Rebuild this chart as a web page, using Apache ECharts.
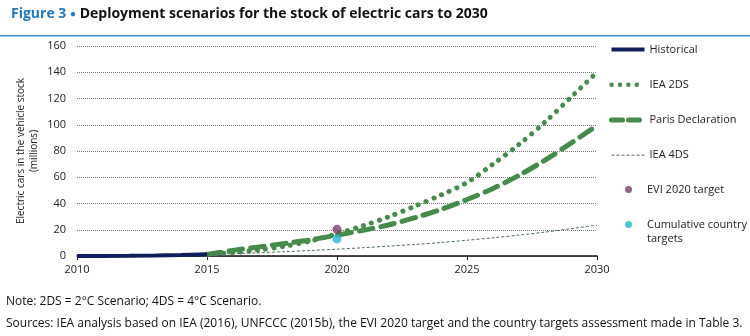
<!DOCTYPE html>
<html><head><meta charset="utf-8">
<script src="https://cdn.jsdelivr.net/npm/echarts@6/dist/echarts.min.js"></script>
<style>html,body{margin:0;padding:0;background:#fff}#c{width:750px;height:336px}</style>
</head><body><div id="c"></div>
<script>
var histYears = [2010, 2011, 2012, 2013, 2014, 2015];
var historical = [0.02, 0.07, 0.18, 0.38, 0.7, 1.26];
var scenYears = [2015, 2016, 2017, 2018, 2019, 2020, 2021, 2022, 2023, 2024, 2025, 2026, 2027, 2028, 2029, 2030];
var iea2ds = [1.26, 2.6, 4.6, 7.5, 11.5, 17, 23, 30, 38, 46.5, 56, 70, 85, 102, 121, 140];
var paris = [1.26, 4.3, 6.9, 9.6, 12.3, 16, 19.5, 23.8, 29.2, 35.5, 43, 51.5, 61.5, 73, 86, 99.5];
var iea4ds = [1.26, 1.8, 2.5, 3.3, 4.2, 5.2, 6.3, 7.5, 8.8, 10.3, 12, 13.9, 15.9, 18.2, 20.8, 23.5];
var targetYear = 2020;
var evi2020 = 20.3;
var countryTargets = 13;
var xTicks = [2010, 2015, 2020, 2025, 2030];

function pairs(xs, ys) { return xs.map(function (x, i) { return [x, ys[i]]; }); }

var FONT = 'Open Sans';
var green = '#468A4C';
var navy = '#0F1E5A';
var grey4 = '#4F6F55';
var chart = echarts.init(document.getElementById('c'), null, { renderer: 'canvas' });
chart.setOption({
  animation: false,
  textStyle: { fontFamily: FONT },
  title: {
    text: '{a|Figure 3 }{b|●}{c| Deployment scenarios for the stock of electric cars to 2030}',
    left: 6, top: 2,
    textStyle: {
      rich: {
        a: { fontFamily: FONT, fontSize: 14, fontWeight: 'bold', color: '#1E78C2' },
        b: { fontFamily: FONT, fontSize: 10, color: '#1E78C2' },
        c: { fontFamily: FONT, fontSize: 14, fontWeight: 'bold', color: '#111' }
      }
    }
  },
  graphic: [
    { type: 'rect', shape: { x: 0, y: 35, width: 750, height: 1.5 }, style: { fill: '#3A86C8' } },
    { type: 'text', left: 647, top: 233, style: { text: 'targets', font: '11px "Open Sans"', fill: '#222' } },
    { type: 'text', left: 6, top: 296, style: { text: 'Note: 2DS = 2°C Scenario; 4DS = 4°C Scenario.', font: '12px "Open Sans"', fill: '#111' } },
    { type: 'text', left: 6, top: 318, style: { text: 'Sources: IEA analysis based on IEA (2016), UNFCCC (2015b), the EVI 2020 target and the country targets assessment made in Table 3.', font: '12px "Open Sans"', fill: '#111' } }
  ],
  legend: [
    {
      orient: 'vertical', left: 604, top: 39, padding: 5, itemWidth: 33, itemHeight: 14, itemGap: 24,
      itemStyle: { opacity: 0 },
      textStyle: { fontFamily: FONT, fontSize: 11, color: '#222' },
      data: [
        { name: 'Historical', lineStyle: { width: 4, color: navy, type: 'solid' } },
        { name: 'IEA 2DS', lineStyle: { width: 4.5, color: green, type: [0.1, 8.3], cap: 'round' } },
        { name: 'Paris Declaration', lineStyle: { width: 5, color: green, type: [11, 6], cap: 'round' } },
        { name: 'IEA 4DS', lineStyle: { width: 1, color: grey4, type: [3, 2] } }
      ]
    },
    {
      orient: 'vertical', left: 620, top: 179, padding: 5, itemWidth: 7, itemHeight: 7, itemGap: 24,
      textStyle: { fontFamily: FONT, fontSize: 11, color: '#222', padding: [0, 0, 0, 10] },
      formatter: function (n) { return n === 'Cumulative country targets' ? 'Cumulative country' : n; },
      data: [
        { name: 'EVI 2020 target', icon: 'circle' },
        { name: 'Cumulative country targets', icon: 'circle' }
      ]
    }
  ],
  grid: { left: 77, right: 153, top: 46, bottom: 80 },
  xAxis: {
    type: 'value', min: 2010, max: 2030, interval: 5,
    axisLine: { lineStyle: { color: '#111', width: 1.5 } },
    axisTick: { show: true, length: 4, lineStyle: { color: '#111' } },
    axisLabel: { fontFamily: FONT, fontSize: 11, color: '#222', margin: 8, formatter: function (v) { return xTicks.indexOf(v) >= 0 ? String(v) : ''; } },
    splitLine: { show: false }
  },
  yAxis: {
    type: 'value', min: 0, max: 160, interval: 20,
    name: 'Electric cars in the vehicle stock\n(millions)',
    nameLocation: 'middle', nameGap: 36, nameMoveOverlap: false,
    nameTextStyle: { fontFamily: FONT, fontSize: 10, color: '#222', lineHeight: 13 },
    axisLine: { show: false }, axisTick: { show: false },
    axisLabel: { fontFamily: FONT, fontSize: 11, color: '#222', margin: 11 },
    splitLine: { lineStyle: { color: '#777', type: [1, 1], width: 1 } }
  },
  series: [
    { name: 'Historical', type: 'line', data: pairs(histYears, historical), symbol: 'none', z: 5,
      lineStyle: { color: navy, width: 4 }, itemStyle: { color: navy } },
    { name: 'IEA 2DS', type: 'line', data: pairs(scenYears, iea2ds), symbol: 'none', smooth: 0.3,
      lineStyle: { color: green, width: 5, type: [0.1, 8.3], cap: 'round' }, itemStyle: { color: green } },
    { name: 'Paris Declaration', type: 'line', data: pairs(scenYears, paris), symbol: 'none', smooth: 0.3,
      lineStyle: { color: green, width: 5, type: [14, 8], cap: 'round' }, itemStyle: { color: green } },
    { name: 'IEA 4DS', type: 'line', data: pairs(scenYears, iea4ds), symbol: 'none', smooth: 0.3,
      lineStyle: { color: grey4, width: 1, type: [3, 2] }, itemStyle: { color: grey4 } },
    { name: 'EVI 2020 target', type: 'scatter', data: [[targetYear, evi2020]], symbolSize: 9, z: 6,
      itemStyle: { color: '#7A3F6C' } },
    { name: 'Cumulative country targets', type: 'scatter', data: [[targetYear, countryTargets]], symbolSize: 9, z: 6,
      itemStyle: { color: '#25B8D2' } }
  ]
});
</script></body></html>
